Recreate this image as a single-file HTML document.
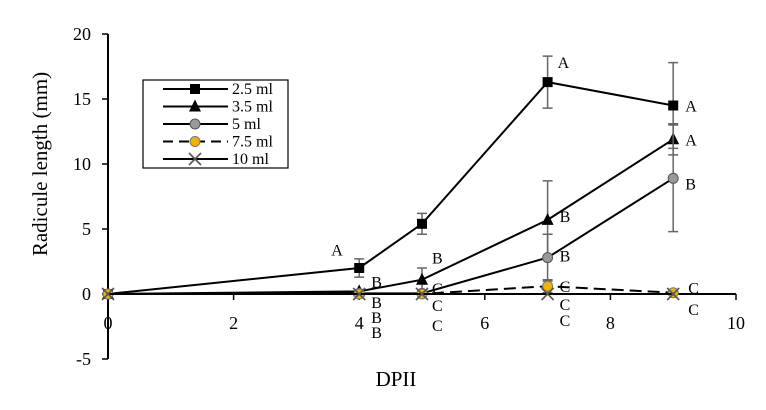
<!DOCTYPE html>
<html><head><meta charset="utf-8"><style>
body{margin:0;background:#fff}
svg text{font-family:"Liberation Serif",serif;fill:#000}
</style></head><body>
<svg id="c" width="766" height="405" xmlns="http://www.w3.org/2000/svg"></svg>
<script>
const xs=[0,4,5,7,9];
const s25=[0,2.0,5.4,16.3,14.5], e25=[0,0.7,0.8,2.0,3.3];
const s35=[0,0.2,1.1,5.7,11.9], e35=[0,0,0.9,3.0,1.2];
const s5=[0,0.05,0.05,2.8,8.9], e5=[0,0,0,1.8,4.1];
const s75=[0,0,0,0.6,0.1], e75=[0,0,0,0.5,0];
const s10=[0,0,0,0,0], e10=[0,0,0,0,0];
const xTicks=[0,2,4,6,8,10], yTicks=[-5,0,5,10,15,20];
const letters=[[4,2.5,'A',-28,-12],[4,0.2,'B',12,-10],[4,0,'B',12,8],[4,0,'B',12,23],[4,0,'B',12,38],
[5,1.1,'B',10,-22],[5,0.3,'C',10,-2],[5,0,'C',10,11],[5,0,'C',10,31],
[7,16.3,'A',10,-20],[7,5.7,'B',12,-4],[7,2.8,'B',12,-2],[7,0.6,'C',12,0],[7,0,'C',12,10],[7,0,'C',12,26],
[9,14.5,'A',12,0],[9,11.9,'A',12,0],[9,8.9,'B',12,5],[9,0.1,'C',15,-5],[9,0,'C',15,15]];
const svg=document.getElementById('c'),NS='http://www.w3.org/2000/svg';
const X=v=>108+v*62.8, Y=v=>294-v*13;
function el(t,a,p){const e=document.createElementNS(NS,t);for(const k in a)e.setAttribute(k,a[k]);(p||svg).appendChild(e);return e;}
let yax=el('line',{x1:108,y1:34,x2:108,y2:359,stroke:'#000','stroke-width':2});


let xax=el('line',{x1:108,y1:294,x2:736,y2:294,stroke:'#000','stroke-width':2});


yTicks.forEach(v=>{el('line',{x1:102,y1:Y(v),x2:108,y2:Y(v),stroke:'#000','stroke-width':1.5});
 let t=el('text',{x:91,y:Y(v)+6,'text-anchor':'end','font-size':18});t.textContent=v;
 
 });
xTicks.forEach(v=>{el('line',{x1:X(v),y1:294,x2:X(v),y2:300,stroke:'#000','stroke-width':1.5});
 let t=el('text',{x:X(v),y:329,'text-anchor':'middle','font-size':18});t.textContent=v;
 
 });
let xt=el('text',{x:396,y:386,'text-anchor':'middle','font-size':21});xt.textContent='DPII';


let yt=el('text',{x:47,y:164,'text-anchor':'middle','font-size':21,transform:'rotate(-90 47 164)'});yt.textContent='Radicule length (mm)';


function marker(type,cx,cy,g){
 if(type=='sq')el('rect',{x:cx-5,y:cy-5,width:10,height:10,fill:'#000'},g);
 else if(type=='tri')el('polygon',{points:`${cx},${cy-7} ${cx-6},${cy+5} ${cx+6},${cy+5}`,fill:'#000'},g);
 else if(type=='gc')el('circle',{cx,cy,r:5,fill:'#999',stroke:'#555'},g);
 else if(type=='yc')el('circle',{cx,cy,r:5,fill:'#f0b400',stroke:'#777'},g);
 else {el('path',{d:`M${cx-6} ${cy-6}L${cx+6} ${cy+6}M${cx+6} ${cy-6}L${cx-6} ${cy+6}`,stroke:'#555','stroke-width':1.6,fill:'none'},g);}
}
const series=[[s25,e25,'sq','','series-2-5ml'],[s35,e35,'tri','','series-3-5ml'],[s5,e5,'gc','','series-5ml'],[s75,e75,'yc','12 6','series-7-5ml'],[s10,e10,'x','','series-10ml']];
series.forEach(([s,e,m,d,n])=>{
 const g=el('g',{});
 
 
 el('polyline',{points:xs.map((x,i)=>X(x)+','+Y(s[i])).join(' '),fill:'none',stroke:'#000','stroke-width':2,'stroke-dasharray':d},g);
 xs.forEach((x,i)=>{if(e[i]>0){const a=Y(s[i]+e[i]),b=Y(s[i]-e[i]);
  el('path',{d:`M${X(x)} ${a}V${b}M${X(x)-5} ${a}H${X(x)+5}M${X(x)-5} ${b}H${X(x)+5}`,stroke:'#666','stroke-width':1.5,fill:'none'},g);}
  marker(m,X(x),Y(s[i]),g);});
});
letters.forEach(([x,v,l,dx,dy])=>{let t=el('text',{x:X(x)+dx,y:Y(v)+dy+6,'font-size':16});t.textContent=l;
 
 });
const lg=el('g',{});


el('rect',{x:143,y:80,width:145,height:88,fill:'#fff',stroke:'#000','stroke-width':1.2},lg);
const names=['2.5 ml','3.5 ml','5 ml','7.5 ml','10 ml'];
series.forEach(([s,e,m,d],i)=>{const y=89+i*17.5;
 el('line',{x1:163,y1:y,x2:228,y2:y,stroke:'#000','stroke-width':2,'stroke-dasharray':d?'10 6':''},lg);
 marker(m,195,y,lg);
 let t=el('text',{x:232,y:y+5,'font-size':16},lg);t.textContent=names[i];
 
 });
</script>
</body></html>
